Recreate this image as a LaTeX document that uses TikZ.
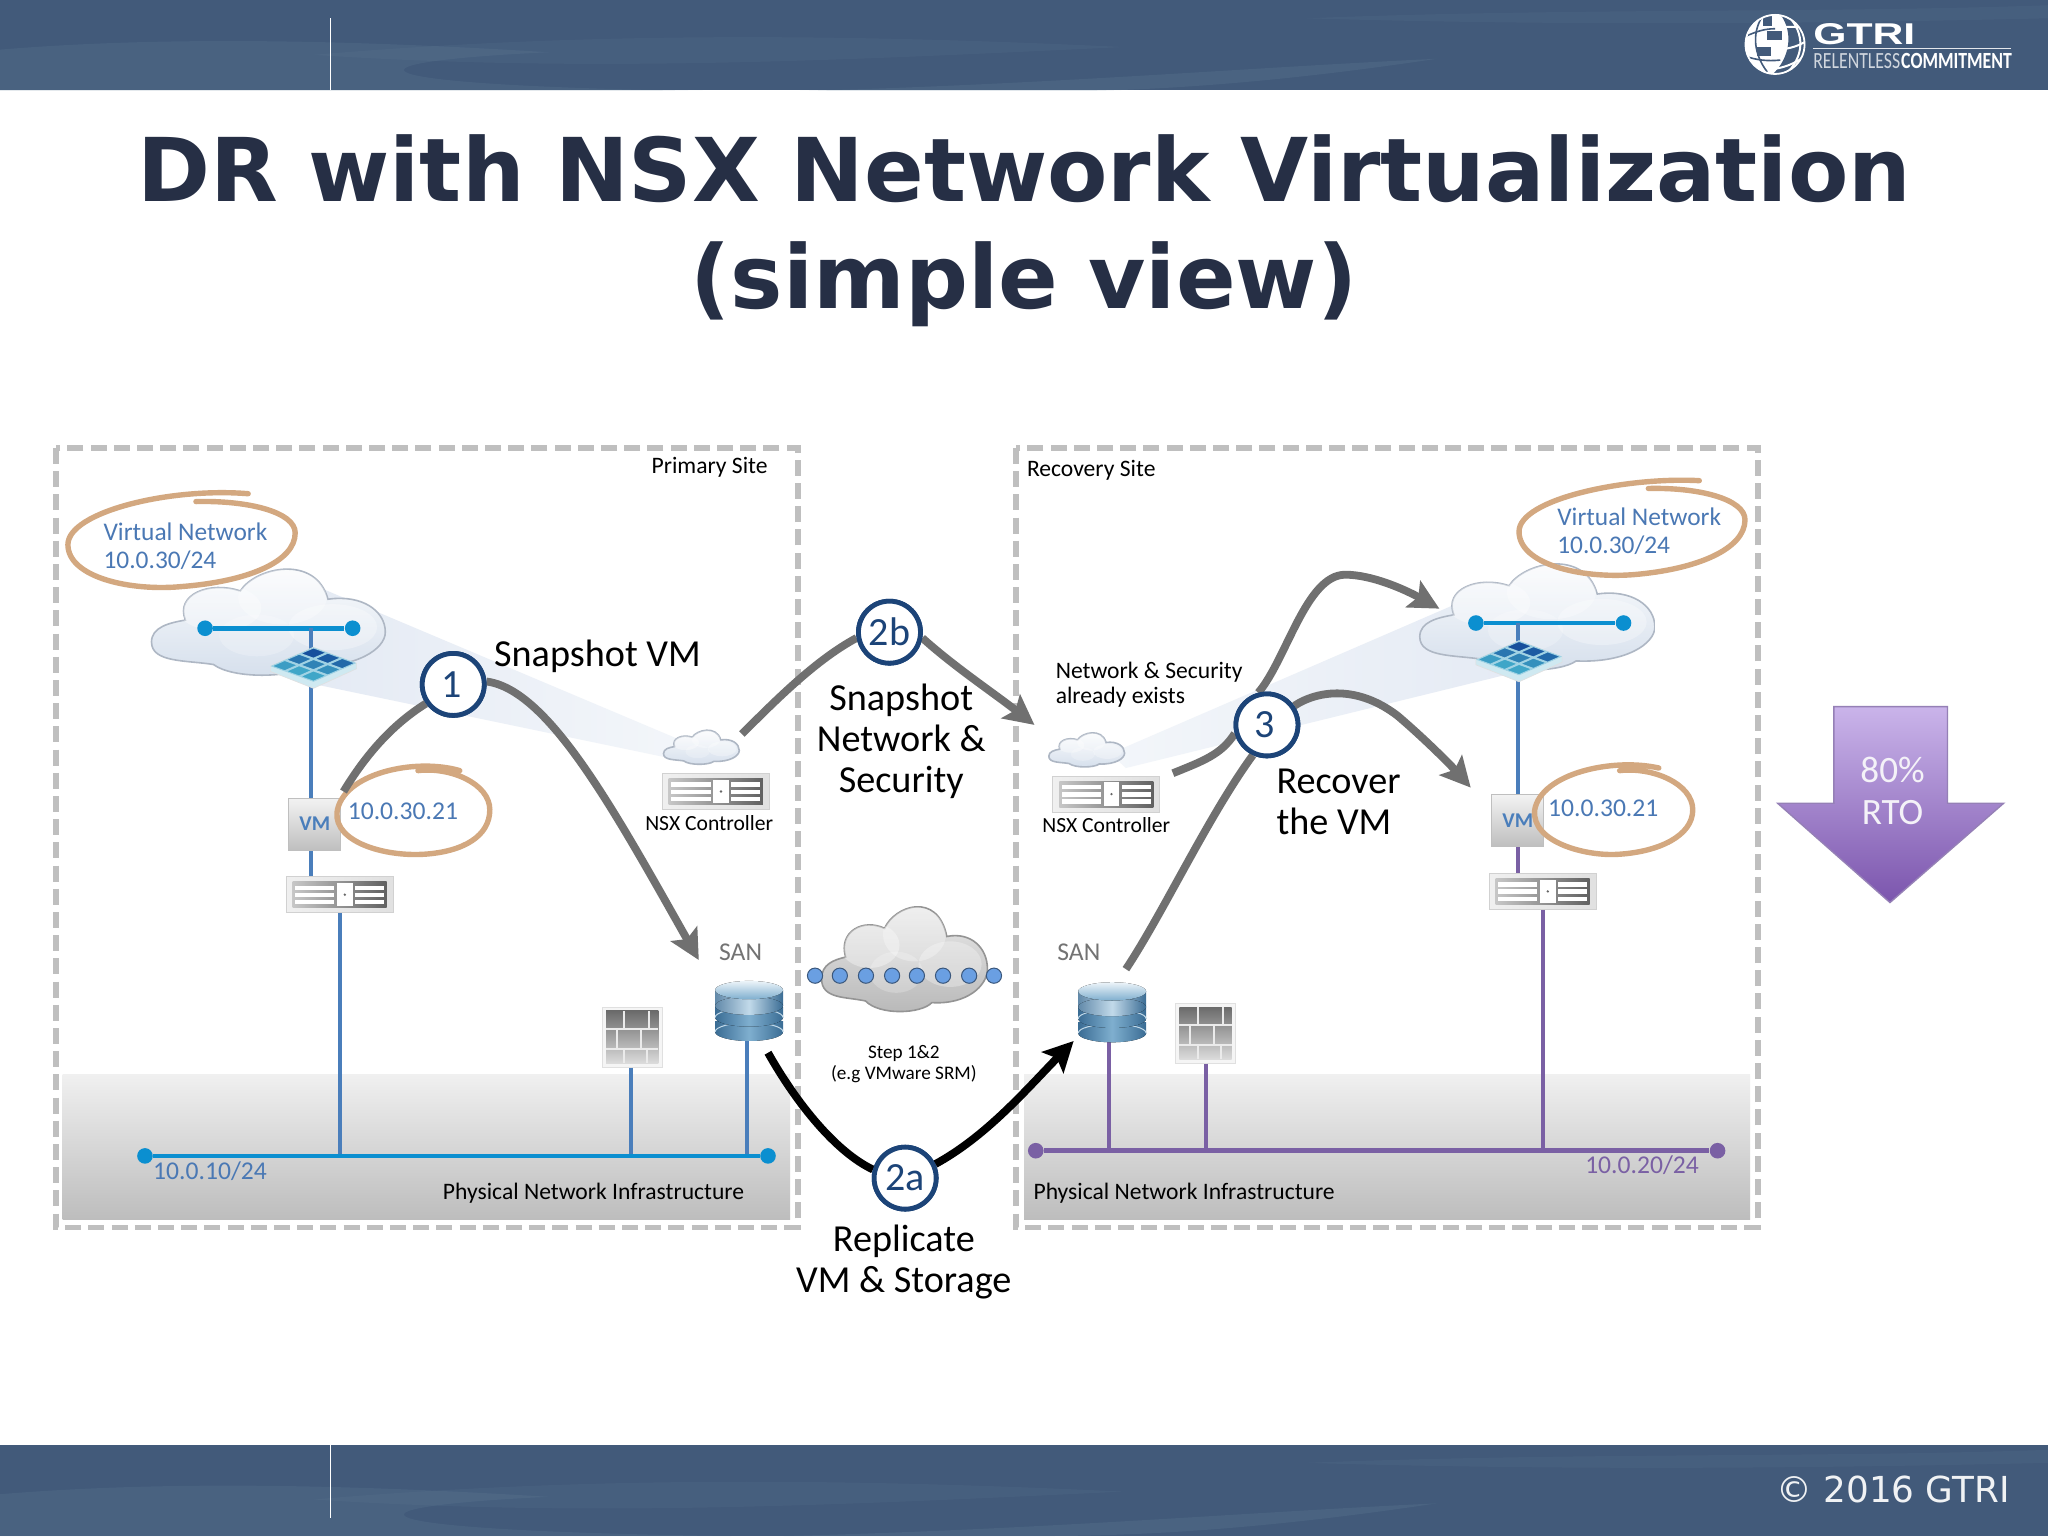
\documentclass[tikz,border=0pt]{standalone}
\usepackage{fontspec}
\usepackage{graphicx}
\setmainfont{Carlito}
\newfontfamily\vfont{DejaVu Sans}
\newfontfamily\hfont{Liberation Sans}
\usetikzlibrary{arrows.meta,calc,shapes.geometric}
\definecolor{band}{HTML}{425A7A}
\definecolor{bandlight}{HTML}{6A87A0}
\definecolor{titlecol}{HTML}{262F45}
\definecolor{dashgrey}{HTML}{BFBFBF}
\definecolor{ringcol}{HTML}{D3A880}
\definecolor{ipblue}{HTML}{4A78B4}
\definecolor{linkblue}{HTML}{4A7EBB}
\definecolor{barblue}{HTML}{0B8FD0}
\definecolor{purp}{HTML}{7A60A4}
\definecolor{circcol}{HTML}{1C4478}
\definecolor{arcgrey}{HTML}{707070}
\definecolor{cloudlow}{HTML}{D5DFEC}
\definecolor{cloudedge}{HTML}{AEB7C4}
\definecolor{wedgea}{HTML}{E4EAF4}
\definecolor{wedgeb}{HTML}{F3F6FA}
\definecolor{steeltop}{HTML}{C2DAEA}
\definecolor{steelmid}{HTML}{7FAFCF}
\definecolor{steeldark}{HTML}{3A6C94}
\definecolor{tilea}{HTML}{164F9C}
\definecolor{tileb}{HTML}{3FA6C8}
\definecolor{rtotop}{HTML}{CAB4EA}
\definecolor{rtolow}{HTML}{7B55AD}
\definecolor{netdot}{HTML}{6A9FE2}
\newcommand\Fs[2]{\fontsize{#1}{#2}\selectfont}
\tikzset{
  x=0.65306pt,y=-0.65306pt,
  site/.style={draw=dashgrey,line width=2.7pt,dash pattern=on 8pt off 3.6pt},
  ground/.style={top color=black!6,bottom color=black!26,draw=none},
  stepdot/.style={circle,draw=circcol,line width=2.4pt,fill=white,minimum size=31pt,inner sep=0pt,font=\Fs{20}{20},text=circcol},
  bigtext/.style={font=\Fs{19.1}{20.6},text=black,inner sep=0pt},
  smalltext/.style={font=\Fs{11.8}{12.6},text=black,inner sep=0pt},
  nsxtext/.style={font=\Fs{10.8}{12},text=black,inner sep=0pt},
  iptext/.style={font=\Fs{12.8}{14},text=ipblue,inner sep=0pt},
  nettext/.style={font=\Fs{12.7}{14.1},text=ipblue,inner sep=0pt,align=left},
  sanlabel/.style={font=\Fs{12.8}{13},text=black!55,inner sep=0pt},
  arcline/.style={draw=arcgrey,line width=3.9pt},
  arctip/.style={-{Stealth[length=15pt,width=15pt,inset=3pt]}},
  blackline/.style={draw=black,line width=3.9pt},
  ring/.style={draw=ringcol,line width=2.7pt,line cap=round},
  bluelink/.style={draw=linkblue,line width=2pt},
  purplink/.style={draw=purp,line width=2pt},
  busblue/.style={draw=barblue,line width=2.4pt},
  buspurp/.style={draw=purp,line width=2.4pt},
  wedge/.style={left color=wedgea,right color=wedgeb,draw=none},
  srvnode/.style={rectangle,minimum width=53.5pt,minimum height=18pt,inner sep=0pt,draw=black!18,line width=.5pt,left color=black!6,right color=black!12},
  vmnode/.style={rectangle,minimum width=26pt,minimum height=26pt,inner sep=0pt,draw=black!25,line width=.4pt,top color=black!5,bottom color=black!25,font=\bfseries\Fs{10.5}{11},text=linkblue},
  wallnode/.style={rectangle,minimum width=30pt,minimum height=30pt,inner sep=0pt,draw=black!12,line width=.5pt,fill=black!4},
  cylnode/.style={rectangle,minimum width=34.6pt,minimum height=25.5pt,inner sep=0pt},
  dotnode/.style={circle,inner sep=0pt,minimum size=7.8pt},
}
% unit cloud outline
\def\cloudpath{(-.47,-.78) .. controls (-.7,-.7) and (-1,-.75) .. (-1,-.37)
 .. controls (-1,-.1) and (-.85,-.02) .. (-.71,.03)
 .. controls (-.8,.5) and (-.5,.75) .. (-.24,.56)
 .. controls (-.12,.98) and (.4,1.25) .. (.51,.41)
 .. controls (.8,.5) and (1,.2) .. (1,-.19)
 .. controls (1,-.5) and (.75,-.85) .. (.33,-.81)
 .. controls (.2,-1.02) and (-.3,-1.05) .. (-.47,-.78) -- cycle}
\newcommand\Cloud[7]{% cx cy hw hh top bottom edge
 \begin{scope}[shift={(#1,#2)},xscale=#3,yscale=-#4]
  \path[draw=#7,line width=.8pt,top color=#5,bottom color=#6,shading angle=0] \cloudpath;
  \begin{scope}
   \clip \cloudpath;
   \fill[white,opacity=.35] (-.42,.25) ellipse (.36 and .42);
   \fill[white,opacity=.3] (.12,.45) ellipse (.38 and .5);
   \fill[white,opacity=.3] (.55,-.1) ellipse (.38 and .42);
   \fill[white,opacity=.22] (-.1,-.25) ellipse (.32 and .38);
  \end{scope}
 \end{scope}}
\newcommand\Srvdetail[2]{% centre
 \begin{scope}[shift={(#1,#2)}]
  \shade[left color=black!22,right color=black!62] (-36,-10) rectangle (36,10);
  \foreach \yy in {-7,-1.5,4}{\fill[white] (-34,\yy) rectangle (-4,\yy+3.4);\fill[white] (12,\yy) rectangle (34,\yy+3.4);}
  \fill[white] (-2,-9) rectangle (10,9);
  \fill[black!60] (4,0) circle (1);
 \end{scope}}
\newcommand\Walldetail[2]{%
 \begin{scope}[shift={(#1,#2)}]
  \shade[top color=black!58,bottom color=black!14] (-20,-20) rectangle (20,20);
  \foreach \yy in {-6,9}{\draw[white!92!black,line width=1pt] (-20,\yy) -- (20,\yy);}
  \draw[white!92!black,line width=1pt] (-6,-20)--(-6,-6) (13,-20)--(13,-6) (-12,-6)--(-12,9) (6.5,-6)--(6.5,9) (-6,9)--(-6,20) (11.7,9)--(11.7,20);
 \end{scope}}
\newcommand\Cyldetail[2]{%
 \begin{scope}[shift={(#1,#2)}]
  \foreach \yy in {11,0}{
   \shade[left color=steeldark,right color=steeldark,middle color=steelmid] (-26,\yy) rectangle (26,\yy+8);
   \fill[left color=steeldark,right color=steeldark,middle color=steelmid] (0,\yy+8) ellipse (26 and 7);
   \draw[steeltop,line width=.5pt] (-26,\yy+8) arc (180:360:26 and 7);
  }
  \shade[left color=steeldark!80!white,right color=steeldark,middle color=steeltop] (-26,-13) rectangle (26,-1);
  \fill[left color=steeldark!80!white,right color=steeldark,middle color=steeltop] (0,-1) ellipse (26 and 7);
  \fill[top color=white!70!steeltop,bottom color=steelmid] (0,-13) ellipse (26 and 7);
 \end{scope}}
\newcommand\Tiles[2]{% switch icon centre
 \begin{scope}[shift={(#1,#2)}]
  \fill[tileb!25!white,draw=black!12,line width=.3pt] (-33,0) -- (0,-14.5) -- (33,-2) -- (33,2) -- (0,17) -- (-33,4) -- cycle;
  \begin{scope}[shift={(-33,0)},x={(7.18pt,3.13pt)},y={(7.18pt,-2.61pt)}]
   \foreach \i in {0,1,2}{\foreach \j in {0,1,2}{
     \pgfmathtruncatemacro\mx{min(100,max(0,10+45*\i-15*\j))}
     \fill[tilea!\mx!tileb,draw=tileb!50!white,line width=.5pt] (\i+.05,\j+.05) -- (\i+.95,\j+.05) -- (\i+.95,\j+.95) -- (\i+.05,\j+.95) -- cycle;}}
  \end{scope}
 \end{scope}}
\newcommand\Streaks[1]{% top of band
 \begin{scope}[shift={(0,#1)}]
  \clip (0,0) rectangle (1568,70);
  \fill[bandlight,opacity=.18] (0,38) .. controls (120,28) and (260,30) .. (420,40) .. controls (250,48) and (260,66) .. (560,70) -- (0,70) -- cycle;
  \fill[bandlight,opacity=.12] (240,42) .. controls (450,24) and (650,26) .. (860,36) .. controls (650,46) and (450,56) .. (240,42) -- cycle;
  \fill[bandlight,opacity=.2] (600,70) .. controls (800,65) and (950,52) .. (1100,45) .. controls (1000,60) and (900,70) .. (800,70) -- cycle;
  \fill[bandlight,opacity=.12] (1000,14) .. controls (1200,6) and (1400,10) .. (1568,4) -- (1568,14) .. controls (1400,18) and (1200,20) .. (1000,14) -- cycle;
 \end{scope}}
\begin{document}
\begin{tikzpicture}
\useasboundingbox (0,0) rectangle (1568,1176);
\fill[white] (0,0) rectangle (1568,1176);
% header and footer
\fill[band] (0,0) rectangle (1568,69);
\fill[band] (0,1106) rectangle (1568,1176);
\begin{scope}
 \clip (0,0) rectangle (1568,69);
 \Streaks{0}
\end{scope}
\Streaks{1106}
\coordinate (hl1) at (253,14); \coordinate (hl2) at (253,69);
\coordinate (fl1) at (253,1106); \coordinate (fl2) at (253,1162);
\draw[white,line width=.75pt] (hl1) -- (hl2);
\draw[white,line width=.75pt] (fl1) -- (fl2);
% logo
\begin{scope}[shift={(1359,34)}]
 \fill[white] (0,0) circle (23);
 \begin{scope}
  \clip (0,0) circle (23);
  \fill[band] (4,-23) .. controls (14,-10) and (12,10) .. (-2,23) -- (23,23) -- (23,-23) -- cycle;
  \fill[band] (-6,-10) rectangle (5,-3);
  \fill[band] (-14,2) rectangle (-3,9);
  \fill[band] (-9,-22) rectangle (-2,-14);
  \draw[white,line width=1pt] (9,-23) .. controls (24,-8) and (22,10) .. (8,23);
  \draw[white,line width=1pt] (-2,-12) .. controls (8,-14) and (16,-14) .. (23,-12);
  \draw[white,line width=1pt] (4,4) .. controls (12,3) and (18,1) .. (23,-2);
  \draw[white,line width=1pt] (-2,19) .. controls (6,18) and (14,15) .. (20,11);
  \draw[band,line width=.8pt] (-23,-6) .. controls (-14,-10) and (-8,-12) .. (0,-12);
  \draw[band,line width=.8pt] (-23,9) .. controls (-14,12) and (-6,13) .. (4,12);
  \draw[band,line width=.8pt] (-10,-21) .. controls (-18,-8) and (-16,8) .. (-6,21);
 \end{scope}
 \draw[white,line width=.9pt] (0,0) circle (22.6);
\end{scope}
\node[inner sep=0pt,anchor=west,text=white,font=\hfont\bfseries\Fs{15.5}{16}] (logoa) at (1388,26) {\resizebox{51pt}{10.5pt}{GTRI}};
\coordinate (logol) at (1388,37); \coordinate (logor) at (1540,37);
\draw[white!85!band,line width=.6pt] (logol) -- (logor);
\node[inner sep=0pt,anchor=west,text=white,font=\Fs{10}{10}] (logob) at (1388,46.5) {\resizebox{99.3pt}{7.6pt}{\textcolor{white!75!band}{RELENTLESS}\kern.05em\textbf{COMMITMENT}}};
\node[inner sep=0pt,anchor=east,text=white!92!band,font=\vfont\Fs{17.9}{18}] (copyr) at (1539,1140) {© 2016 GTRI};
% title
\node[inner sep=0pt,text=titlecol,font=\vfont\bfseries\Fs{44}{53.5},align=center] (title) at (784,176.5) {DR with NSX Network Virtualization\\(simple view)};
% sites
\path[ground] (48,823) rectangle (605,934);
\path[ground] (784,823) rectangle (1340,934);
\draw[site] (43,343) rectangle (611,940);
\draw[site] (778,343) rectangle (1346,940);
\node[smalltext,anchor=east] (psite) at (588,358) {Primary Site};
\node[smalltext,anchor=west] (rsite) at (786,360) {Recovery Site};
% wedges
\path[wedge] (245,450) -- (522,567) -- (525,583) -- (232,522) -- cycle;
\path[wedge,shading angle=270] (1125,458) -- (1180,510) -- (862,588) -- (850,577) -- cycle;
% clouds
\Cloud{205.5}{476}{89.5}{42}{white}{cloudlow}{cloudedge}
\Cloud{537}{572}{29}{13.5}{white}{cloudlow}{cloudedge}
\Cloud{832}{574}{29}{13.5}{white}{cloudlow}{cloudedge}
\Cloud{1177}{472}{90}{42}{white}{cloudlow}{cloudedge}
\fill[white] (1267,425) rectangle (1275,520);
\Cloud{692.5}{734}{63.5}{41.5}{black!6}{black!28}{black!42}
% left site links
\node[dotnode,fill=barblue] (ld1) at (157,481) {};
\node[dotnode,fill=barblue] (ld2) at (270,481) {};
\draw[busblue] (ld1) -- (ld2);
\coordinate (ltop) at (238,481);
\node[vmnode] (vmL) at (241,631) {};
\node[srvnode] (srvL) at (260,685) {};
\node[wallnode] (fwL) at (484,794) {};
\node[cylnode] (sanL) at (573,771) {};
\node[dotnode,fill=barblue] (lb1) at (111,885) {};
\node[dotnode,fill=barblue] (lb2) at (588,885) {};
\coordinate (lj1) at (260,885); \coordinate (lj2) at (483,885); \coordinate (lj3) at (572,885);
\draw[bluelink] (ltop) -- (ltop |- vmL.north);
\draw[bluelink] (ltop |- vmL.south) -- (ltop |- srvL.north);
\draw[bluelink] (srvL) -- (lj1);
\draw[bluelink] (lj2 |- fwL.south) -- (lj2);
\draw[bluelink] (lj3 |- sanL.south) -- (lj3);
\draw[busblue] (lb1) -- (lb2);
\Srvdetail{260}{685}
\Walldetail{484}{794}
\Cyldetail{573.5}{771}
\Tiles{240}{510}
\node[vmnode] at (241,631) {VM};
% left NSX
\node[srvnode] (nsxL) at (548,606) {};
\Srvdetail{548}{606}
\node[nsxtext] (nsxLt) at (543,630) {NSX Controller};
% right site
\node[dotnode,fill=barblue] (rd1) at (1130,477) {};
\node[dotnode,fill=barblue] (rd2) at (1243,477) {};
\draw[busblue] (rd1) -- (rd2);
\coordinate (rtop) at (1162,477);
\node[vmnode] (vmR) at (1162,628) {};
\node[srvnode] (srvR) at (1181,682.5) {};
\node[wallnode] (fwR) at (923,791) {};
\node[cylnode] (sanR) at (851,772) {};
\node[dotnode,fill=purp] (rb1) at (793,881) {};
\node[dotnode,fill=purp] (rb2) at (1315,881) {};
\coordinate (rj1) at (849,881); \coordinate (rj2) at (923,881); \coordinate (rj3) at (1181,881);
\draw[bluelink] (rtop) -- (rtop |- vmR.north);
\draw[purplink] (rtop |- vmR.south) -- (rtop |- srvR.north);
\draw[purplink] (srvR) -- (rj3);
\draw[purplink] (rj1 |- sanR.south) -- (rj1);
\draw[purplink] (fwR) -- (rj2);
\draw[buspurp] (rb1) -- (rb2);
\Srvdetail{1181}{682.5}
\Walldetail{923}{791}
\Cyldetail{851.5}{772}
\Tiles{1163}{505}
\node[vmnode] at (1162,628) {VM};
\node[srvnode] (nsxR) at (847,608) {};
\Srvdetail{847}{608}
\node[nsxtext] (nsxRt) at (847,632) {NSX Controller};
% middle network dots
\foreach \xx [count=\k] in {624,643,663,683,702,722,742,761}{
 \node[dotnode,draw=netdot!55!black,line width=.5pt,fill=netdot,minimum size=7.6pt] (nd\k) at (\xx,747) {};}
% rings
\draw[ring] (190,378) .. controls (130,373) and (52,392) .. (52,417) .. controls (52,442) and (100,453) .. (140,449) .. controls (190,445) and (226,430) .. (226,408) .. controls (226,392) and (190,383) .. (150,384);
\draw[ring] (352,590) .. controls (318,580) and (262,592) .. (258,622) .. controls (256,645) and (295,656) .. (325,654) .. controls (355,652) and (375,640) .. (375,620) .. controls (375,600) and (345,587) .. (320,590);
\draw[ring] (1301,368) .. controls (1245,365) and (1163,382) .. (1163,407) .. controls (1163,432) and (1210,443) .. (1250,440) .. controls (1300,436) and (1336,420) .. (1336,398) .. controls (1336,382) and (1300,373) .. (1262,374);
\draw[ring] (1270,588) .. controls (1235,580) and (1180,592) .. (1175,620) .. controls (1172,645) and (1215,656) .. (1240,654) .. controls (1270,652) and (1296,640) .. (1296,620) .. controls (1296,600) and (1265,587) .. (1240,590);
% blue labels
\node[nettext,anchor=west] (vnL) at (79,418) {Virtual Network\\10.0.30/24};
\node[nettext,anchor=west] (vnR) at (1192,407) {Virtual Network\\10.0.30/24};
\node[iptext,anchor=west] (ipL) at (266,621) {10.0.30.21};
\node[iptext,anchor=west] (ipR) at (1185,619) {10.0.30.21};
\node[iptext,anchor=west] (busL) at (117,897) {10.0.10/24};
\node[iptext,anchor=east,text=purp] (busR) at (1301,892) {10.0.20/24};
\node[smalltext,anchor=east] (pnL) at (570,913.5) {Physical Network Infrastructure};
\node[smalltext,anchor=west] (pnR) at (791,913.5) {Physical Network Infrastructure};
\node[sanlabel] (sanLt) at (567,729) {SAN};
\node[sanlabel] (sanRt) at (826,729) {SAN};
\node[smalltext,anchor=west,align=left] (exists) at (808,524) {Network \& Security\\already exists};
\node[smalltext,font=\Fs{9.6}{10.7},align=center] (stept) at (692,814.5) {Step 1\&2\\(e.g VMware SRM)};
% step circles
\node[stepdot] (c1) at (347,524) {};
\node[stepdot] (c2b) at (681,484) {};
\node[stepdot] (c3) at (970,555) {};
\node[stepdot] (c2a) at (693,902) {};
% arcs
\coordinate (a1s) at (263,606);
\coordinate (a1e) at (535,735);
\coordinate (a2bs) at (568,562);
\coordinate (a2be) at (792,555);
\coordinate (a3s) at (898,592);
\coordinate (a3e1) at (1102,466);
\coordinate (a3e2) at (1126,603);
\coordinate (a3b) at (862,742);
\coordinate (a2as) at (588,806);
\coordinate (a2ae) at (822,797);
\draw[arcline] (a1s) .. controls (280,578) and (300,555) .. (c1.215);
\draw[arcline,arctip] (c1.5) .. controls (420,528) and (470,620) .. (a1e);
\draw[arcline] (a2bs) .. controls (595,535) and (625,505) .. (c2b.190);
\draw[arcline,arctip] (c2b.-10) .. controls (730,510) and (760,530) .. (a2be);
\draw[arcline] (a3s) .. controls (920,583) and (935,578) .. (c3.195);
\draw[arcline] (a3b) .. controls (890,700) and (925,625) .. (c3.-115);
\draw[arcline,arctip] (c3.105) .. controls (985,505) and (1000,440) .. (1030,440) .. controls (1050,440) and (1075,451) .. (a3e1);
\draw[arcline,arctip] (c3.35) .. controls (1010,528) and (1040,525) .. (1070,548) .. controls (1090,565) and (1110,585) .. (a3e2);
\draw[blackline] (a2as) .. controls (610,845) and (640,882) .. (c2a.165);
\draw[blackline,arctip] (c2a.25) .. controls (755,870) and (785,835) .. (a2ae);
\node[stepdot] at (347,524) {\kern-2pt 1};
\node[stepdot] at (681,484) {2b};
\node[stepdot] at (970,555) {\kern-2pt 3};
\node[stepdot] at (693,902) {2a};
% big labels
\node[bigtext,anchor=west] (snapvm) at (378,502.5) {Snapshot VM};
\node[bigtext,align=center] (snapn) at (690,567.5) {Snapshot\\Network \&\\Security};
\node[bigtext,anchor=west,align=left] (recov) at (977,614) {Recover\\the VM};
\node[bigtext,align=center] (repl) at (692,966.5) {Replicate\\VM \& Storage};
% RTO arrow
\path[draw=purp!80,line width=.7pt,top color=rtotop,bottom color=rtolow,shading angle=0] (1404,541) -- (1491,541) -- (1491,615) -- (1534,615) -- (1447,691) -- (1361,615) -- (1404,615) -- cycle;
\node[inner sep=0pt,font=\Fs{18.6}{20.6},text=white!92!purp,align=center] (rto) at (1449,605.5) {80\%\\RTO};
\end{tikzpicture}
\end{document}
